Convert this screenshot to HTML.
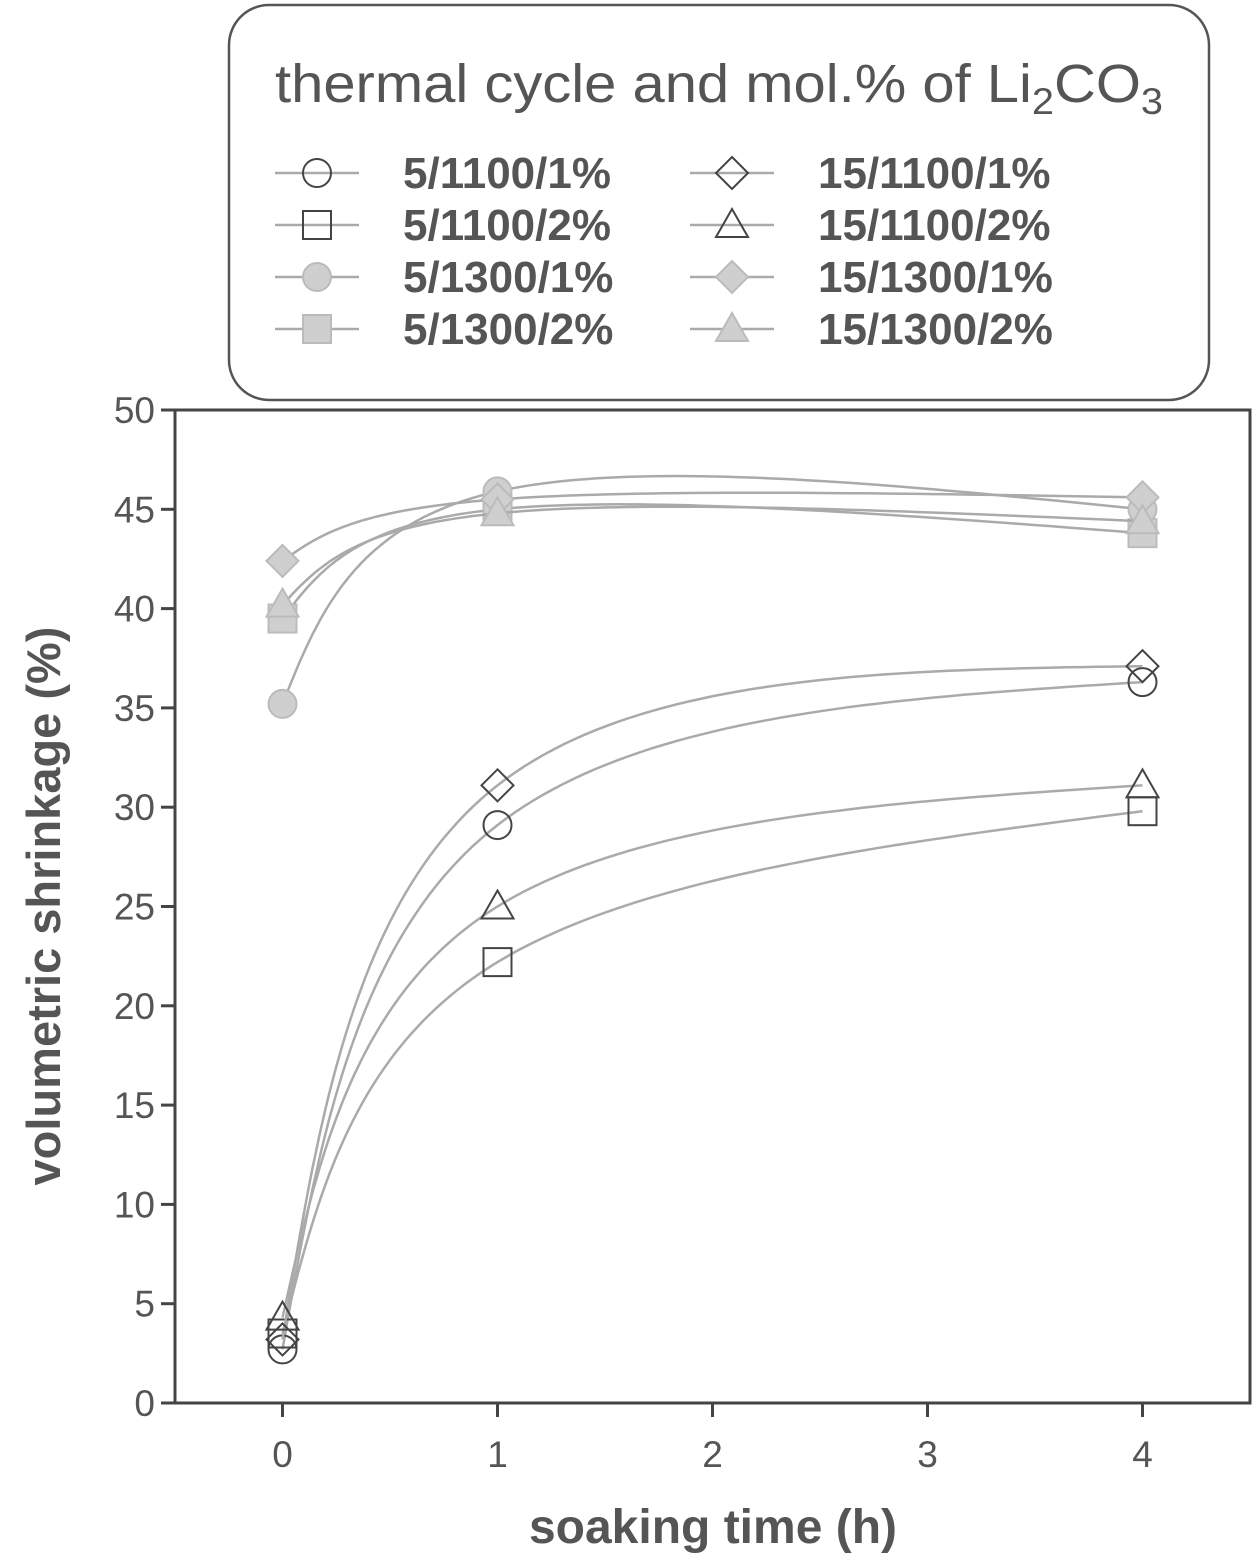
<!DOCTYPE html>
<html><head><meta charset="utf-8"><style>
html,body{margin:0;padding:0;background:#fff;}
svg text{font-family:"Liberation Sans",Arial,sans-serif;}
</style></head><body>
<svg id="chart" width="1258" height="1560" viewBox="0 0 1258 1560" xmlns="http://www.w3.org/2000/svg">
<g id="legend">
<rect x="229" y="5" width="980" height="395" rx="40" fill="#fff" stroke="#555" stroke-width="2.5"/>
<text x="275" y="102" font-size="54" fill="#555" textLength="888" lengthAdjust="spacingAndGlyphs">thermal cycle and mol.% of Li<tspan font-size="37" dy="12">2</tspan><tspan dy="-12">CO</tspan><tspan font-size="37" dy="12">3</tspan></text>
</g>
<g id="axes"></g>
<g id="plot"></g>
</svg>
<script>
const categories=[0,1,4];
const seriesNames=["5/1100/1%","5/1100/2%","5/1300/1%","5/1300/2%","15/1100/1%","15/1100/2%","15/1300/1%","15/1300/2%"];
const s5_1100_1=[2.7,29.1,36.3];
const s5_1100_2=[3.5,22.2,29.8];
const s5_1300_1=[35.2,45.9,45.0];
const s5_1300_2=[39.5,45.0,43.8];
const s15_1100_1=[3.2,31.1,37.1];
const s15_1100_2=[4.3,25.0,31.1];
const s15_1300_1=[42.4,45.5,45.6];
const s15_1300_2=[40.2,44.8,44.4];
const xTicks=[0,1,2,3,4];
const yTicks=[0,5,10,15,20,25,30,35,40,45,50];

const NS="http://www.w3.org/2000/svg";
const L=175,R=1250,T=410,B=1403;
const xMin=-0.5,xMax=4.5,yMin=0,yMax=50;
function X(v){return L+(v-xMin)/(xMax-xMin)*(R-L);}
function Y(v){return B-(v-yMin)/(yMax-yMin)*(B-T);}
function mk(tag,attrs,parent){const e=document.createElementNS(NS,tag);for(const k in attrs)e.setAttribute(k,attrs[k]);parent.appendChild(e);return e;}
const axes=document.getElementById('axes');
const plot=document.getElementById('plot');
const legend=document.getElementById('legend');

const frame=mk('rect',{x:L,y:T,width:R-L,height:B-T,fill:'none',stroke:'#444','stroke-width':3},axes);


yTicks.forEach(v=>{
 const t=mk('line',{x1:L-14,x2:L,y1:Y(v),y2:Y(v),stroke:'#444','stroke-width':3},axes);
 
 
 const l=mk('text',{x:L-20,y:Y(v)+13,'text-anchor':'end','font-size':37,fill:'#555'},axes);
 
 
 l.textContent=v;
});
xTicks.forEach(v=>{
 const t=mk('line',{x1:X(v),x2:X(v),y1:B,y2:B+14,stroke:'#444','stroke-width':3},axes);
 
 
 const l=mk('text',{x:X(v),y:B+64,'text-anchor':'middle','font-size':37,fill:'#555'},axes);
 
 
 l.textContent=v;
});
const xt=mk('text',{x:713,y:1543,'text-anchor':'middle','font-size':48,'font-weight':'bold',fill:'#555'},axes);


xt.textContent='soaking time (h)';
const yt=mk('text',{x:0,y:0,'text-anchor':'middle','font-size':47,'font-weight':'bold',fill:'#555',transform:'translate(60,906) rotate(-90)'},axes);


yt.textContent='volumetric shrinkage (%)';

function curve(xs,ys){
 const n=xs.length,P=xs.map((x,i)=>[x,ys[i]]),M=new Array(n);
 for(let i=1;i<n-1;i++)M[i]=[(P[i+1][0]-P[i-1][0])/2,(P[i+1][1]-P[i-1][1])/2];
 M[0]=[0,1].map(j=>1.5*(P[1][j]-P[0][j])-0.5*M[1][j]);
 M[n-1]=[0,1].map(j=>1.5*(P[n-1][j]-P[n-2][j])-0.5*M[n-2][j]);
 const pts=[];
 for(let i=0;i<n-1;i++){
  for(let k=0;k<=50;k++){const t=k/50,t2=t*t,t3=t2*t;
   const h00=2*t3-3*t2+1,h10=t3-2*t2+t,h01=-2*t3+3*t2,h11=t3-t2;
   pts.push([0,1].map(j=>h00*P[i][j]+h10*M[i][j]+h01*P[i+1][j]+h11*M[i+1][j]));
  }
 }
 return pts;
}
const data=[s5_1100_1,s5_1100_2,s5_1300_1,s5_1300_2,s15_1100_1,s15_1100_2,s15_1300_1,s15_1300_2];
const shapes=['circle','square','circle','square','diamond','triangle','diamond','triangle'];
const filled=[false,false,true,true,false,false,true,true];
function marker(g,shape,fill,cx,cy){
 const st=fill?{fill:'#cfcfcf',stroke:'#bbb','stroke-width':2}:{fill:'none',stroke:'#444','stroke-width':2};
 let e;
 if(shape==='circle')e=mk('circle',Object.assign({cx:cx,cy:cy,r:14},st),g);
 else if(shape==='square')e=mk('rect',Object.assign({x:cx-14,y:cy-14,width:28,height:28},st),g);
 else if(shape==='diamond')e=mk('polygon',Object.assign({points:`${cx},${cy-16} ${cx+16},${cy} ${cx},${cy+16} ${cx-16},${cy}`},st),g);
 else e=mk('polygon',Object.assign({points:`${cx},${cy-16} ${cx+16},${cy+12} ${cx-16},${cy+12}`},st),g);
 return e;
}
data.forEach((ys,si)=>{
 const g=mk('g',{},plot);
 
 
 const pts=curve(categories,ys);
 const p=mk('path',{d:'M'+pts.map(q=>X(q[0]).toFixed(1)+','+Y(q[1]).toFixed(1)).join(' L'),fill:'none',stroke:'#aaa','stroke-width':2.5},g);
 
 
 categories.forEach((cx,i)=>{
  const m=marker(g,shapes[si],filled[si],X(cx),Y(ys[i]));
  
  
 });
});
seriesNames.forEach((nm,i)=>{
 const col=i<4?0:1,row=i%4;
 const lx=col?690:275,ty=173+row*52;
 const g=mk('g',{},legend);
 
 
 const ln=mk('line',{x1:lx,x2:lx+84,y1:ty,y2:ty,stroke:'#aaa','stroke-width':2.5},g);
 
 
 const m=marker(g,shapes[i],filled[i],lx+42,ty);
 
 
 const t=mk('text',{x:lx+128,y:ty+15,'font-size':44,'font-weight':'bold',fill:'#555'},g);
 
 
 t.textContent=nm;
});
</script>
</body></html>
